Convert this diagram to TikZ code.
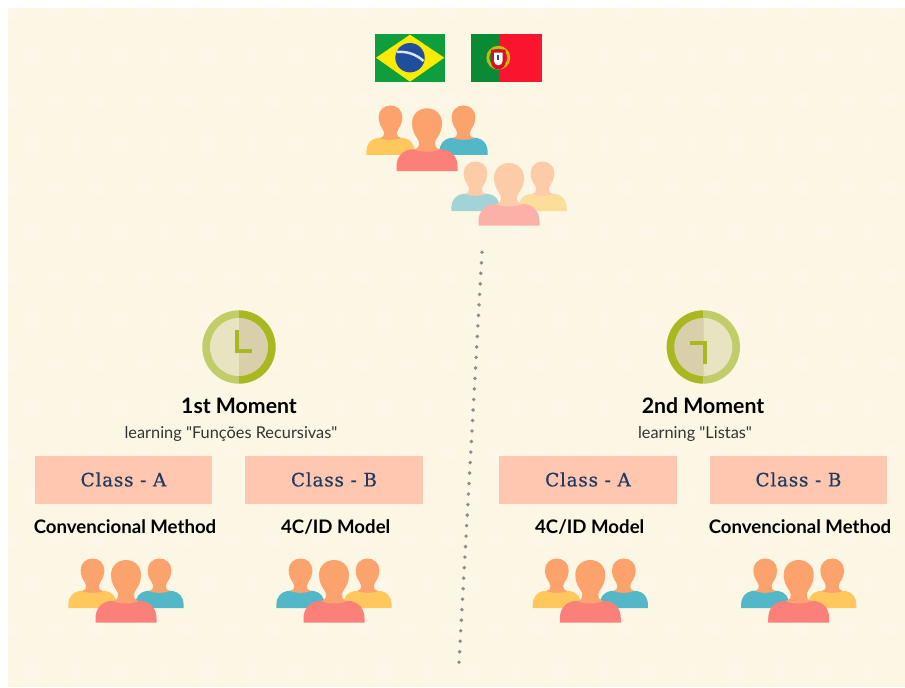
\documentclass[tikz,border=0pt]{standalone}
\usepackage{fontspec}
\setmainfont{Lato}
\newfontfamily\topicfont{Lato}
\newfontfamily\slabfont[LetterSpace=4,FakeBold=0.5]{DejaVu Serif}
\usetikzlibrary{positioning}
\definecolor{paper}{HTML}{FCF6E4}
\definecolor{paperlight}{HTML}{FCF7E8}
\definecolor{boxpink}{HTML}{FFC6B0}
\definecolor{classink}{HTML}{1F3A5F}
\definecolor{skin}{HTML}{FCA26C}
\definecolor{shirtyellow}{HTML}{FFC75C}
\definecolor{shirtteal}{HTML}{52B7C7}
\definecolor{shirtred}{HTML}{FB807A}
\definecolor{paleskin}{HTML}{FCCBA8}
\definecolor{paleyellow}{HTML}{FCDD9C}
\definecolor{paleteal}{HTML}{A2D3D6}
\definecolor{palered}{HTML}{FCB1A8}
\definecolor{ringdark}{HTML}{A9B81F}
\definecolor{ringlight}{HTML}{C1CD68}
\definecolor{facedark}{HTML}{D9D0AB}
\definecolor{facelight}{HTML}{E8E3C1}
\definecolor{brgreen}{HTML}{0E9E3E}
\definecolor{bryellow}{HTML}{FCEB00}
\definecolor{brblue}{HTML}{1F4E9E}
\definecolor{ptgreen}{HTML}{0A8A35}
\definecolor{ptred}{HTML}{FB142E}
\tikzset{
  classbox/.style={fill=boxpink,minimum width=3.56cm,minimum height=0.96cm,inner sep=0pt,
    text=classink,font=\slabfont\fontsize{10.5}{12}\selectfont},
  methodlabel/.style={font=\bfseries\fontsize{10.6}{12}\selectfont,text=black,inner sep=0pt},
  momentlabel/.style={font=\bfseries\fontsize{12.1}{14}\selectfont,text=black,inner sep=0pt},
  topiclabel/.style={font=\topicfont\fontsize{9.3}{11}\selectfont,text=black!80,inner sep=0pt},
  pics/person/.style 2 args={code={
    \fill[#2] (-30.5,0) -- (-30.5,-4) .. controls (-30.5,-14) and (-25,-20) .. (-17,-21.5)
      -- (-9,-22) -- (9,-22) -- (17,-21.5) .. controls (25,-20) and (30.5,-14) .. (30.5,-4) -- (30.5,0) -- cycle;
    \fill[#1] (-13,-21.5) .. controls (-9.5,-22.5) and (-8,-24) .. (-8,-28)
      .. controls (-8,-30) and (-9,-31) .. (-10,-33)
      .. controls (-13,-37) and (-15,-42) .. (-15,-48) .. controls (-15,-57) and (-8,-62.7) .. (0,-62.7)
      .. controls (8,-62.7) and (15,-57) .. (15,-48) .. controls (15,-42) and (13,-37) .. (10,-33)
      .. controls (9,-31) and (8,-30) .. (8,-28) .. controls (8,-24) and (9.5,-22.5) .. (13,-21.5)
      .. controls (6,-18.5) and (-6,-18.5) .. (-13,-21.5) -- cycle;
  }},
  pics/crowd/.style n args={4}{code={
    \pic[scale=0.79] at (-33.5,-14.7) {person={#1}{#2}};
    \pic[scale=0.79] at (33.5,-14.7) {person={#1}{#3}};
    \pic at (0,0) {person={#1}{#4}};
  }},
  pics/clockface/.style={code={
    \fill[ringlight] (0,-36.7) arc (-90:-270:36.7) -- cycle;
    \fill[ringdark] (0,-36.7) arc (-90:90:36.7) -- cycle;
    \fill[facelight] (0,-29) arc (-90:-270:29) -- cycle;
    \fill[facedark] (0,-29) arc (-90:90:29) -- cycle;
    \fill[ringdark] (-4,-17) rectangle (0,5.7);
    \fill[ringdark] (-4,1.7) rectangle (13,5.7);
  }}
}
\begin{document}
\begin{tikzpicture}[x=0.02cm,y=-0.02cm]
\useasboundingbox (0,0) rectangle (905,687);
\fill[white] (0,0) rectangle (905,687);
\fill[paper] (8,8) rectangle (905,687); % fondo
\begin{scope}
\clip (8,8) rectangle (905,687);
\foreach \row in {0,...,15}
  \foreach \col in {0,...,21}
    \fill[paperlight] ({\col*44+mod(\row,2)*22},{\row*44+12}) -- +(11,-9) -- +(22,0) -- +(11,9) -- cycle;
\end{scope}
% banderas
\fill[brgreen] (375,34) rectangle (445,82);
\fill[bryellow] (376,57.7) -- (410,34.7) -- (444.3,57.7) -- (410,81.7) -- cycle;
\fill[brblue] (410,57.7) circle (14.7);
\draw[white!85!brblue,line width=1.4] (396.5,52) .. controls (406,51) and (416,54) .. (423.5,61);
\fill[ptgreen] (470.7,34) rectangle (499,82);
\fill[ptred] (499,34) rectangle (542.3,82);
\draw[bryellow!80!black,line width=1.6] (498.3,57.7) circle (10.5);
\fill[ptred!85!black] (491,49.5) rectangle (505.6,62) arc (0:180:7.3) -- cycle;
\fill[white] (494,52.5) rectangle (502.6,61) arc (0:180:4.3) -- cycle;
\fill[brblue] (497.3,54.5) rectangle (499.3,60);
% grupos de personas
\pic at (427,171) [scale=1.09] {crowd={skin}{shirtyellow}{shirtteal}{shirtred}};
\pic at (509,225.7) {crowd={paleskin}{paleteal}{paleyellow}{palered}};
\pic at (126,622.7) {crowd={skin}{shirtyellow}{shirtteal}{shirtred}};
\pic at (334,622.7) {crowd={skin}{shirtteal}{shirtyellow}{shirtred}};
\pic at (590.3,622.7) {crowd={skin}{shirtyellow}{shirtteal}{shirtred}};
\pic at (798.7,622.7) {crowd={skin}{shirtteal}{shirtyellow}{shirtred}};
% linea de puntos
\coordinate (dotstop) at (482,252.3);
\coordinate (dotsbottom) at (459,662.3);
\draw[black!45,line width=2.2,line cap=round,dash pattern=on 0pt off 0.2106cm] (dotstop) -- (dotsbottom);
% relojes
\pic at (239,347) {clockface};
\pic[rotate=180] at (703.3,347) {clockface};
\node[momentlabel] (momentone) at (239,406) {1st Moment};
\node[momentlabel] (momenttwo) at (703,406) {2nd Moment};
\node[topiclabel] (topicone) at (231,434) {learning "Funções Recursivas"};
\node[topiclabel] (topictwo) at (695,434) {learning "Listas"};
% clases
\node[classbox] (classoa) at (123.5,479.5) {Class - A};
\node[classbox] (classob) at (334,479.5) {Class - B};
\node[classbox] (classta) at (588,479.5) {Class - A};
\node[classbox] (classtb) at (798.5,479.5) {Class - B};
\node[methodlabel] (methodoa) at (125,527) {Convencional Method};
\node[methodlabel] (methodob) at (335.7,527) {4C/ID Model};
\node[methodlabel] (methodta) at (589.7,527) {4C/ID Model};
\node[methodlabel] (methodtb) at (800,527) {Convencional Method};
\end{tikzpicture}
\end{document}
